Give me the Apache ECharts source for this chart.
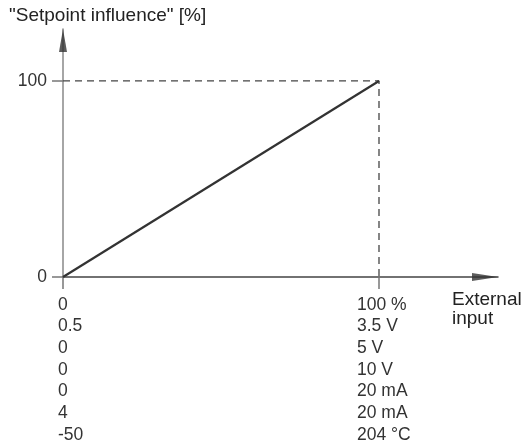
<!DOCTYPE html>
<html>
<head>
<meta charset="utf-8">
<script src="https://cdn.jsdelivr.net/npm/echarts@6/dist/echarts.min.js"></script>
<style>
  html, body { margin: 0; padding: 0; background: #fff; }
  #chart { width: 523px; height: 446px; }
</style>
</head>
<body>
<div id="chart"></div>
<script>
// Characteristic: setpoint influence rises linearly with the external input
const linePoints = [[0, 0], [100, 100]];
const yTicks = [0, 100];
const xTicks = [0, 100];
// Input scale equivalents, one row per signal type
const inputMin = ['0', '0.5', '0', '0', '0', '4', '-50'];
const inputMax = ['100 %', '3.5 V', '5 V', '10 V', '20 mA', '20 mA', '204 °C'];
const yTitle = '"Setpoint influence" [%]';
const xTitle = 'External\ninput';
// axis extents (arrow tips sit at the axis ends)
const X_END = 137.66;
const Y_END = 126.5;

const FONT = 'Liberation Sans, Arial, sans-serif';
const TXT = '#333';
const LBL = 17.5;

// each column block is right-anchored at its tick; the fixed token width sets how far its text starts left of the tick
const colStyle = w => ({ width: w, align: 'left', fontFamily: FONT, fontSize: LBL, color: TXT, lineHeight: 21.7 });

const chart = echarts.init(document.getElementById('chart'));
chart.setOption({
  animation: false,
  title: {
    text: yTitle,
    left: 9, top: 6, padding: 0,
    textStyle: { fontFamily: FONT, fontSize: 19, fontWeight: 'normal', color: '#222' }
  },
  graphic: [{
    type: 'text', left: 452, top: 290,
    style: { text: xTitle, fontFamily: FONT, fontSize: 19, fill: '#222', lineHeight: 19 }
  }],
  grid: { left: 63, top: 29, width: 435, height: 248 },
  xAxis: {
    type: 'value', min: 0, max: X_END,
    splitLine: { show: false },
    axisLine: { lineStyle: { color: '#444', width: 1.5 } },
    axisTick: { customValues: xTicks, length: 12, lineStyle: { color: '#777', width: 1.5 } },
    axisLabel: {
      customValues: xTicks,
      margin: 17,
      align: 'right',
      verticalAlign: 'top',
      fontFamily: FONT, fontSize: LBL, color: TXT, lineHeight: 21.7,
      rich: { a: colStyle(5), b: colStyle(22) },
      formatter: v => (v === 0
        ? inputMin.map(s => '{a|' + s + '}')
        : inputMax.map(s => '{b|' + s + '}')).join('\n')
    }
  },
  yAxis: {
    type: 'value', min: 0, max: Y_END,
    splitLine: { show: false },
    axisLine: { lineStyle: { color: '#888', width: 1.5 } },
    axisTick: { customValues: yTicks, length: 11, lineStyle: { color: '#777', width: 1.5 } },
    axisLabel: {
      customValues: yTicks,
      margin: 16,
      fontFamily: FONT, fontSize: LBL, color: TXT
    }
  },
  series: [
    {
      type: 'line',
      data: [[0, 100], [100, 100], [100, 0]],
      symbol: 'none',
      lineStyle: { color: '#444', width: 1.3, type: [7, 5] },
      z: 1
    },
    {
      type: 'line',
      data: linePoints,
      symbol: 'none',
      lineStyle: { color: '#333', width: 2.2 },
      z: 3
    },
    // arrowheads at the ends of both axes
    {
      type: 'scatter',
      data: [[0, Y_END]],
      symbol: 'path://M4,0 L8,23 L0,23 Z',
      symbolSize: [8, 23],
      symbolOffset: [0, '50%'],
      itemStyle: { color: '#333' },
      clip: false, silent: true, z: 4
    },
    {
      type: 'scatter',
      data: [[X_END, 0]],
      symbol: 'path://M0,0 L26,4 L0,8 Z',
      symbolSize: [26, 8],
      symbolOffset: ['-50%', 0],
      itemStyle: { color: '#333' },
      clip: false, silent: true, z: 4
    }
  ]
});
</script>
</body>
</html>
